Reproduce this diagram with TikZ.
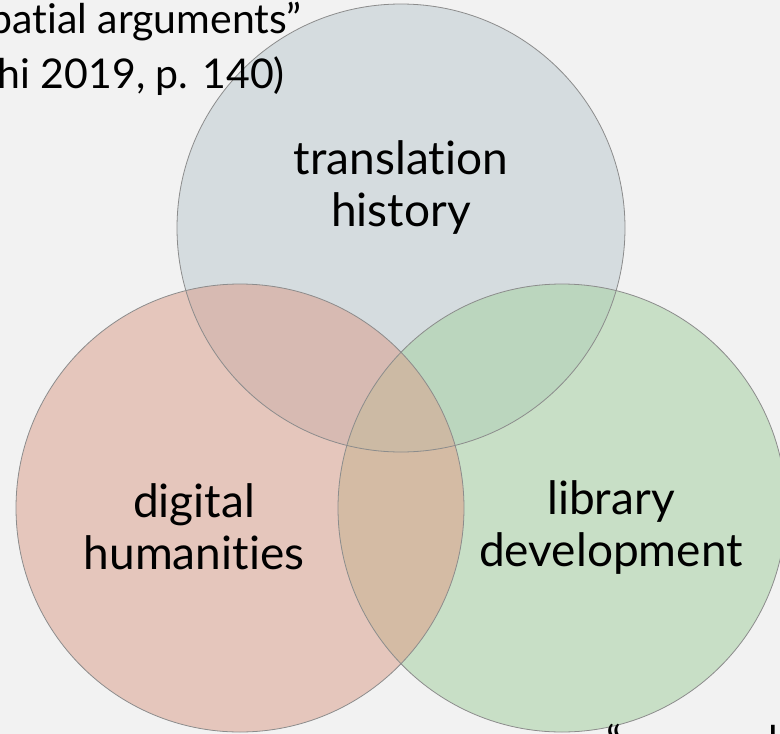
\documentclass[tikz,border=0pt]{standalone}
\usepackage{fontspec}
\setmainfont{Lato}[Ligatures={NoCommon}]
\definecolor{bgcol}{RGB}{242,242,242}
\definecolor{topcol}{RGB}{213,220,223}
\definecolor{leftcol}{RGB}{229,198,188}
\definecolor{rightcol}{RGB}{200,223,198}
\definecolor{tlcol}{RGB}{215,186,178}
\definecolor{trcol}{RGB}{187,214,190}
\definecolor{lrcol}{RGB}{212,187,164}
\definecolor{allcol}{RGB}{204,186,164}
\definecolor{ringgray}{RGB}{140,140,140}
\begin{document}
\begin{tikzpicture}[x=1pt,y=-1pt,
  ring/.style={draw=ringgray,line width=0.8pt},
  setlabel/.style={font=\fontsize{46}{52}\selectfont,align=center,text=black,inner sep=0pt},
  quote/.style={font=\fontsize{41}{55}\selectfont,text=black,inner sep=0pt}]
\useasboundingbox (0,0) rectangle (780,734);
\clip (0,0) rectangle (780,734);
\fill[bgcol] (0,0) rectangle (780,734);

% circle centres
\coordinate (T) at (401,228);
\coordinate (L) at (240,508);
\coordinate (R) at (562,508);
\def\rad{224pt}

% single regions
\fill[topcol] (T) circle[radius=\rad];
\fill[leftcol] (L) circle[radius=\rad];
\fill[rightcol] (R) circle[radius=\rad];

% pairwise overlaps
\begin{scope}
  \clip (T) circle[radius=\rad];
  \fill[tlcol] (L) circle[radius=\rad];
  \fill[trcol] (R) circle[radius=\rad];
\end{scope}
\begin{scope}
  \clip (L) circle[radius=\rad];
  \fill[lrcol] (R) circle[radius=\rad];
\end{scope}
% triple overlap
\begin{scope}
  \clip (T) circle[radius=\rad];
  \clip (L) circle[radius=\rad];
  \fill[allcol] (R) circle[radius=\rad];
\end{scope}

% outlines
\draw[ring] (T) circle[radius=\rad];
\draw[ring] (L) circle[radius=\rad];
\draw[ring] (R) circle[radius=\rad];

% set labels
\node[setlabel] (tlab) at (401,188) {translation\\history};
\node[setlabel] (llab) at (194,527) {digital\\humanities};
\node[setlabel] (rlab) at (611,527) {library\\development};

% quotation fragments
\node[quote,anchor=base east] (q1) at (302,33) {patial arguments”};
\node[quote,anchor=base east] (q2) at (285,88) {hi 2019, p. 140)};
\node[quote,anchor=base west] (q3) at (606,755) {“};
\node[quote,anchor=base west] (q4) at (768,755) {l};
\end{tikzpicture}
\end{document}
